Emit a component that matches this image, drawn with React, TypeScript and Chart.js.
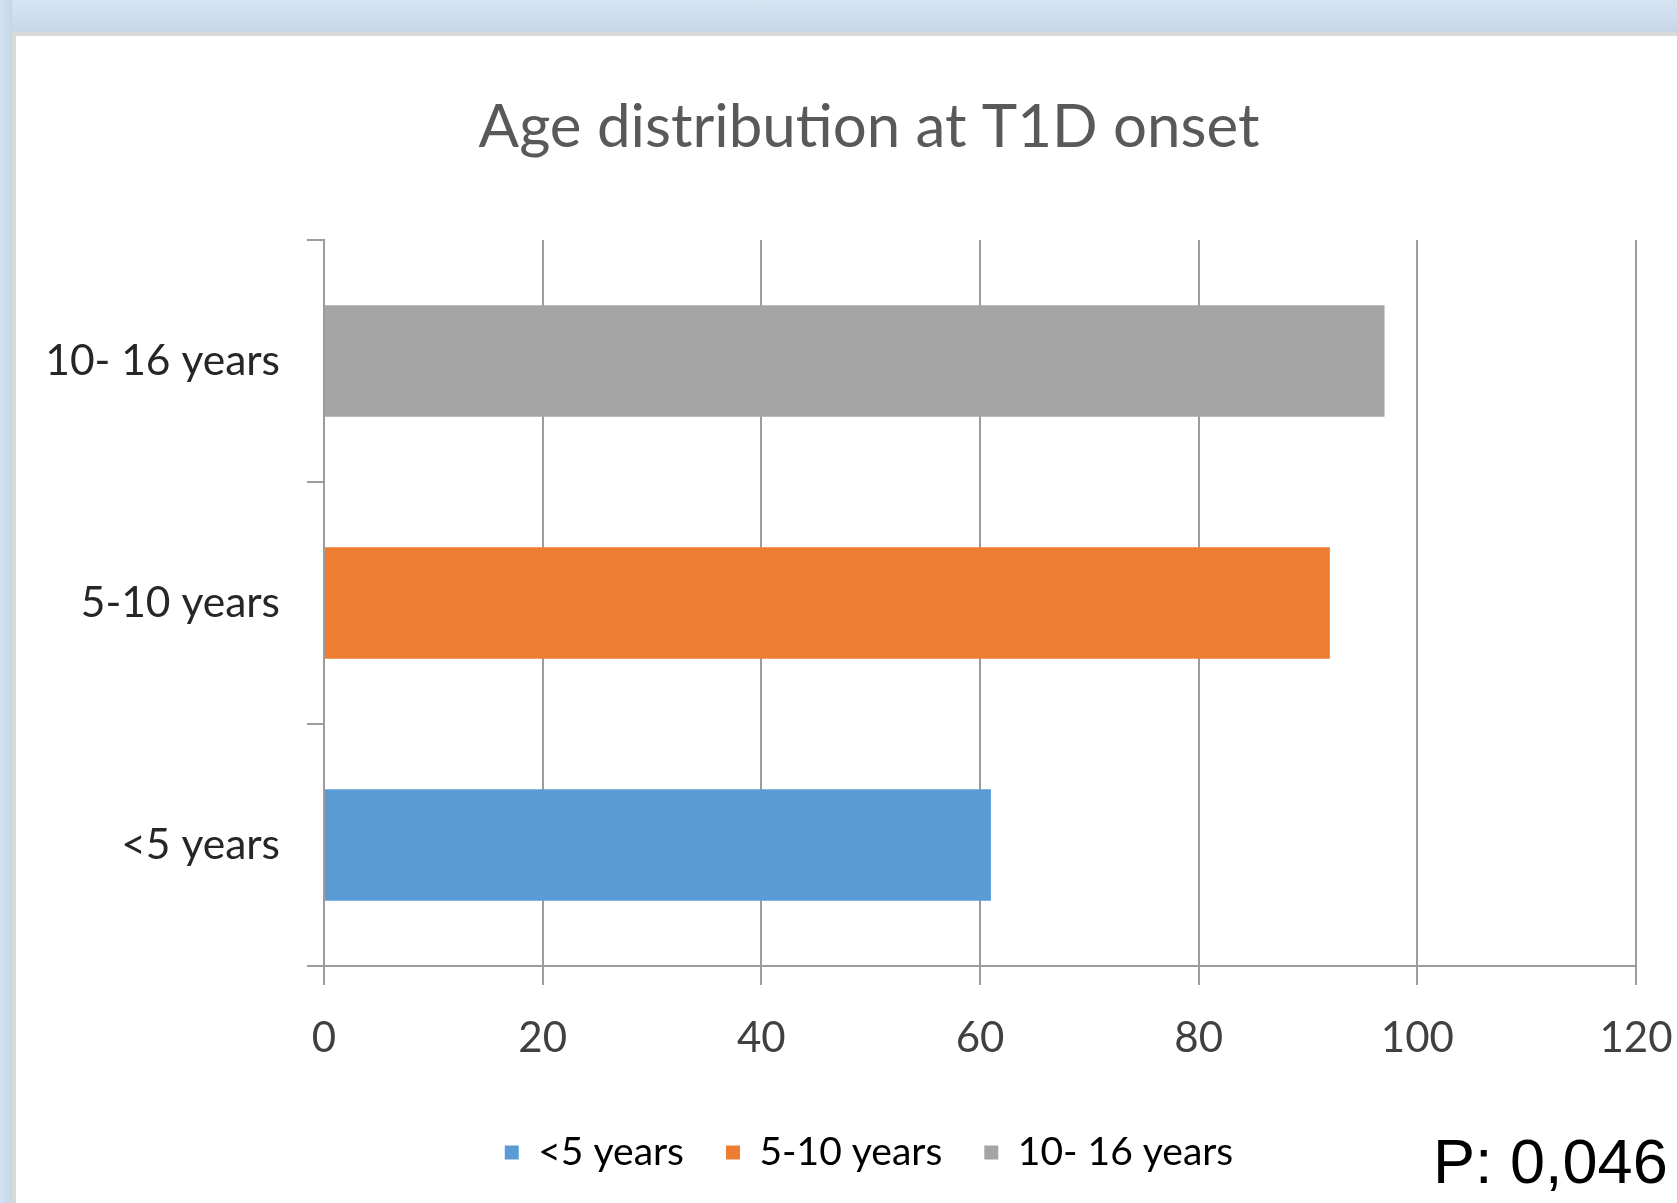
import React, { useEffect, useRef } from "react";
import { Chart, registerables } from "chart.js";

Chart.register(...registerables);

const categories = ["<5 years", "5-10 years", "10- 16 years"];
const values = [61, 92, 97];
const barColors = ["#5B9BD5", "#ED7D31", "#A5A5A5"];
const xTicks = [0, 20, 40, 60, 80, 100, 120];
const titleText = "Age distribution at T1D onset";
const pValueText = "P: 0,046";

const FONT = "Lato";
const GRID = "#9c9c9c";

export default function App() {
  const ref = useRef<HTMLCanvasElement>(null);

  useEffect(() => {
    document.body.style.margin = "0";
    const chart = new Chart(ref.current as HTMLCanvasElement, {
      type: "bar",
      data: {
        labels: categories,
        datasets: [
          {
            data: values,
            backgroundColor: barColors,
            borderWidth: 0,
            barPercentage: 0.46,
            categoryPercentage: 1,
          },
        ],
      },
      options: {
        animation: false,
        responsive: false,
        indexAxis: "y",
        layout: { padding: { left: 14, right: 0, top: 0, bottom: 21 } },
        plugins: {
          title: {
            display: true,
            text: titleText,
            color: "#595959",
            font: { family: FONT, size: 60, weight: "normal" },
            padding: { top: 92, bottom: 76 },
          },
          legend: {
            position: "bottom",
            labels: {
              boxWidth: 14,
              boxHeight: 14,
              padding: 42,
              color: "#595959",
              font: { family: FONT, size: 39 },
              generateLabels: () =>
                categories.map((c, i) => ({
                  text: c,
                  fillStyle: barColors[i],
                  strokeStyle: barColors[i],
                  lineWidth: 0,
                  hidden: false,
                  index: i,
                  datasetIndex: 0,
                })),
            },
          },
          tooltip: { enabled: false },
        },
        scales: {
          x: {
            min: 0,
            max: 120,
            afterBuildTicks: (s: any) => {
              s.ticks = xTicks.map((v) => ({ value: v }));
            },
            grid: { color: GRID, lineWidth: 2, tickLength: 19 },
            border: { color: GRID, width: 2 },
            ticks: {
              color: "#404040",
              font: { family: FONT, size: 42 },
              padding: 28,
            },
            afterFit: (s: any) => {
              s.height = 125;
            },
          },
          y: {
            reverse: true,
            grid: {
              drawOnChartArea: false,
              color: GRID,
              lineWidth: 2,
              tickLength: 17,
              offset: true,
            },
            border: { color: GRID, width: 2 },
            ticks: {
              color: "#262626",
              font: { family: FONT, size: 42.5 },
              padding: 27,
            },
            afterFit: (s: any) => {
              s.width = 310;
            },
          },
          yRightSpace: {
            type: "linear",
            position: "right",
            display: true,
            grid: { display: false, drawTicks: false },
            border: { display: false },
            ticks: { display: false },
            afterFit: (s: any) => {
              s.width = 88;
            },
          },
        },
      },
    } as any);
    return () => chart.destroy();
  }, []);

  return (
    <div
      style={{
        position: "relative",
        width: 1677,
        height: 1203,
        overflow: "hidden",
        background: "#cfdeee",
      }}
    >
      <div
        style={{
          position: "absolute",
          left: 0,
          top: 0,
          width: 1677,
          height: 32,
          background: "linear-gradient(to bottom, #d5e4f3 0%, #d0dfef 45%, #c6d6e7 100%)",
        }}
      />
      <div
        style={{
          position: "absolute",
          left: 0,
          top: 0,
          width: 12,
          height: 1203,
          background: "linear-gradient(to right, #d3e2f1 0%, #c5d6e8 100%)",
        }}
      />
      <div
        style={{
          position: "absolute",
          left: 12,
          top: 32,
          width: 1700,
          height: 1200,
          background: "#ffffff",
          borderTop: "4px solid #d9d9d9",
          borderLeft: "4px solid #d9d9d9",
        }}
      />
      <canvas
        ref={ref}
        width={1724}
        height={1203}
        style={{ position: "absolute", left: 0, top: 0, width: 1724, height: 1203 }}
      />
      <div
        style={{
          position: "absolute",
          left: 1433,
          top: 1130,
          fontFamily: "'Liberation Sans', Arial, sans-serif",
          fontSize: 63,
          lineHeight: "63px",
          color: "#000",
          whiteSpace: "nowrap",
        }}
      >
        {pValueText}
      </div>
    </div>
  );
}
